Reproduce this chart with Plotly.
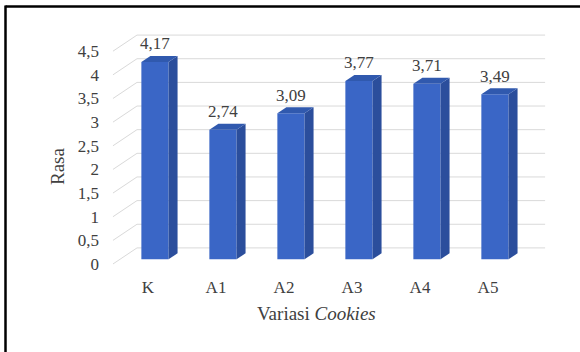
import plotly.graph_objects as go

# Sensory score (Rasa) per cookie variant
categories = ["K", "A1", "A2", "A3", "A4", "A5"]
rasa = [4.17, 2.74, 3.09, 3.77, 3.71, 3.49]
y_ticks = [0, 0.5, 1, 1.5, 2, 2.5, 3, 3.5, 4, 4.5]

# 3D box geometry (in axis units)
DEPTH_X = 0.353      # front plane -> back wall, horizontal shift
DEPTH_Y = 0.34       # front plane -> back wall, vertical shift
FRONT_LEFT = -0.515  # left edge of the front floor
WALL_RIGHT = 5.84    # right end of the back wall
BAR_POS = 0.29       # depth fraction of the bar front faces
BAR_DEPTH = 0.375    # depth fraction occupied by each bar
BAR_W = 0.40
LABEL_GAP = 0.23     # value label centre above the bar's top back edge

FRONT = "#3A66C6"
SIDE = "#2B4E9C"
TOP = "#3059AE"
GRID = "#D9D9D9"
TEXT = "#404040"
FONT = "Times New Roman"

X_RANGE = [-0.706, 6.059]
Y_RANGE = [-0.233, 5.159]

fig = go.Figure()

# back-wall gridlines and the floor-to-wall diagonals (base axes, drawn first)
gx, gy = [], []
for v in y_ticks:
    gx += [FRONT_LEFT, FRONT_LEFT + DEPTH_X, WALL_RIGHT, None]
    gy += [v, v + DEPTH_Y, v + DEPTH_Y, None]
fig.add_trace(go.Scatter(x=gx, y=gy, mode="lines",
                         line=dict(color=GRID, width=1),
                         hoverinfo="skip", showlegend=False))

shift_x = BAR_POS * DEPTH_X
shift_y = BAR_POS * DEPTH_Y
dx = BAR_DEPTH * DEPTH_X
dy = BAR_DEPTH * DEPTH_Y
xs = [i + shift_x for i in range(len(categories))]

# front faces of the bars (overlay axes, so they sit above the grid)
fig.add_trace(go.Bar(x=xs, y=rasa, base=[shift_y] * len(rasa), width=BAR_W,
                     marker=dict(color=FRONT, line=dict(width=0)),
                     xaxis="x2", yaxis="y2",
                     showlegend=False, hoverinfo="skip"))

# side and top faces
for xc, v in zip(xs, rasa):
    xl, xr = xc - BAR_W / 2, xc + BAR_W / 2
    b, t = shift_y, shift_y + v
    fig.add_trace(go.Scatter(
        x=[xr, xr + dx, xr + dx, xr, xr], y=[b, b + dy, t + dy, t, b],
        mode="lines", fill="toself", fillcolor=SIDE,
        line=dict(width=0, color=SIDE), xaxis="x2", yaxis="y2",
        hoverinfo="skip", showlegend=False))
    fig.add_trace(go.Scatter(
        x=[xl, xl + dx, xr + dx, xr, xl], y=[t, t + dy, t + dy, t, t],
        mode="lines", fill="toself", fillcolor=TOP,
        line=dict(width=0, color=TOP), xaxis="x2", yaxis="y2",
        hoverinfo="skip", showlegend=False))

# value labels
fig.add_trace(go.Scatter(
    x=xs, y=[v + shift_y + dy + LABEL_GAP for v in rasa],
    mode="text", text=[f"{v:.2f}".replace(".", ",") for v in rasa],
    textposition="middle center",
    textfont=dict(family=FONT, size=17, color=TEXT),
    xaxis="x2", yaxis="y2", cliponaxis=False,
    hoverinfo="skip", showlegend=False))

L, R, T, B = 100, 20, 20, 77
W, H = 580, 352
pw, ph = W - L - R, H - T - B

def px_to_paper_x(px):
    return (px - L) / pw

def px_to_paper_y(py):
    return (H - B - py) / ph

# frame lines along the top and left edge of the chart area
fig.add_shape(type="line", xref="paper", yref="paper",
              x0=px_to_paper_x(5.5), x1=px_to_paper_x(580),
              y0=px_to_paper_y(6.5), y1=px_to_paper_y(6.5),
              line=dict(color="black", width=2.5))
fig.add_shape(type="line", xref="paper", yref="paper",
              x0=px_to_paper_x(5.5), x1=px_to_paper_x(5.5),
              y0=px_to_paper_y(5.5), y1=px_to_paper_y(352),
              line=dict(color="black", width=2.5))

# axis titles
fig.add_annotation(text="Variasi <i>Cookies</i>", xref="paper", yref="paper",
                   x=px_to_paper_x(316), y=px_to_paper_y(313),
                   xanchor="center", yanchor="middle", showarrow=False,
                   font=dict(family=FONT, size=19, color=TEXT))
fig.add_annotation(text="Rasa", xref="paper", yref="paper",
                   x=px_to_paper_x(57), y=px_to_paper_y(166),
                   xanchor="center", yanchor="middle", showarrow=False,
                   textangle=-90,
                   font=dict(family=FONT, size=19, color=TEXT))

hidden = dict(visible=False, showgrid=False, zeroline=False)

fig.update_layout(
    width=W, height=H,
    margin=dict(l=L, r=R, t=T, b=B),
    paper_bgcolor="white", plot_bgcolor="white",
    separators=", ",
    font=dict(family=FONT, size=17, color=TEXT),
    xaxis=dict(range=X_RANGE, tickvals=list(range(len(categories))),
               ticktext=categories, showgrid=False, zeroline=False,
               showline=False, ticks="",
               tickfont=dict(family=FONT, size=17, color=TEXT)),
    yaxis=dict(range=Y_RANGE, tickvals=y_ticks, showgrid=False,
               zeroline=False, showline=False, ticks="",
               tickfont=dict(family=FONT, size=17, color=TEXT)),
    xaxis2=dict(range=X_RANGE, overlaying="x", **hidden),
    yaxis2=dict(range=Y_RANGE, overlaying="y", **hidden),
)

fig.write_html("out.html")
